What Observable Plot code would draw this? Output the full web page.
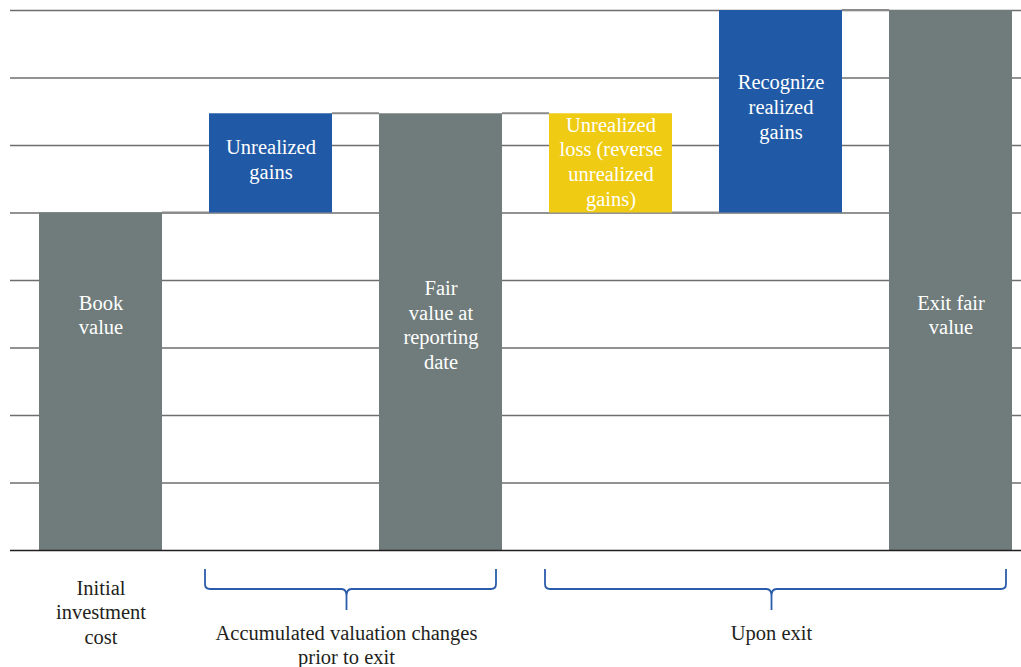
<!DOCTYPE html>
<html><head><meta charset="utf-8">
<script src="https://cdn.jsdelivr.net/npm/d3@7"></script>
<script src="https://cdn.jsdelivr.net/npm/@observablehq/plot@0.6"></script>
<style>body{margin:0;background:#fff} svg{display:block}</style>
</head><body><div id="chart"></div>
<script>
// ---- data ----
const steps = ["Book value", "Unrealized gains", "Fair value at reporting date",
  "Unrealized loss (reverse unrealized gains)", "Recognize realized gains", "Exit fair value"];
const barLabels = ["Book\nvalue", "Unrealized\ngains", "Fair\nvalue at\nreporting\ndate",
  "Unrealized\nloss (reverse\nunrealized\ngains)", "Recognize\nrealized\ngains", "Exit fair\nvalue"];
const barStart = [0, 5, 0, 5, 5, 0];
const barEnd = [5, 6.47, 6.47, 6.47, 8, 8];
const barKind = ["total", "increase", "total", "decrease", "increase", "total"];
const labelAt = [3.48, 5.78, 3.33, 5.75, 6.56, 3.48];
const gridTicks = [1, 2, 3, 4, 5, 6, 7, 8];
const categoryNotes = ["Initial\ninvestment\ncost", "", "", "", "", ""];
const groupLabels = ["Accumulated valuation changes\nprior to exit", "Upon exit"];
const groupFirst = [1, 3];
const groupLast = [2, 5];
const kindColors = {total: "#6f7c7b", increase: "#205aa7", decrease: "#efcb13"};

const FONT = "'Liberation Serif', 'Times New Roman', serif";
const bars = steps.map((s, i) => ({step: s, label: barLabels[i], y1: barStart[i], y2: barEnd[i],
  kind: barKind[i], at: labelAt[i], note: categoryNotes[i]}));

function bw(x) { return typeof x.bandwidth === "function" ? x.bandwidth() : x.bandwidth; }

// connectors between consecutive bars
function connectors(index, scales) {
  const {x, y} = scales;
  const g = d3.create("svg:g").attr("stroke", "#8a8a8a").attr("stroke-width", 2);
  for (let i = 0; i < steps.length - 1; i++) {
    const level = barKind[i] === "decrease" ? barStart[i] : barEnd[i];
    g.append("line")
      .attr("x1", x(steps[i]) + bw(x)).attr("x2", x(steps[i + 1]))
      .attr("y1", y(level)).attr("y2", y(level));
  }
  return g.node();
}

// braces and group labels below the axis
function braces(index, scales) {
  const {x, y} = scales;
  const base = y(0);
  const g = d3.create("svg:g");
  groupLabels.forEach((lab, k) => {
    const x1 = x(steps[groupFirst[k]]) - 4;
    const x2 = x(steps[groupLast[k]]) + bw(x) - 6;
    const cx = (x1 + x2) / 2 - 4;
    const yt = base + 19, yh = base + 39, yb = base + 60, r = 5;
    const p = `M${x1},${yt} L${x1},${yh - r} Q${x1},${yh} ${x1 + r},${yh} L${cx - r},${yh} Q${cx},${yh} ${cx},${yh + r + 2} L${cx},${yb}`
      + ` M${cx},${yh + r + 2} Q${cx},${yh} ${cx + r},${yh} L${x2 - r},${yh} Q${x2},${yh} ${x2},${yh - r} L${x2},${yt}`;
    g.append("path").attr("d", p).attr("fill", "none").attr("stroke", "#2b5cab").attr("stroke-width", 1.8);
    const t = g.append("text").attr("text-anchor", "middle").attr("fill", "#231f20")
      .attr("font-family", FONT).attr("font-size", 20.5);
    lab.split("\n").forEach((line, j) => {
      t.append("tspan").attr("x", cx).attr("y", base + 83.5 + j * 24).attr("dy", "0.32em").text(line);
    });
  });
  return g.node();
}

const chart = Plot.plot({
  width: 1021,
  height: 667,
  marginLeft: 10,
  marginRight: 0,
  marginTop: 10,
  marginBottom: 117,
  style: {background: "#fff", fontFamily: FONT},
  x: {type: "band", domain: steps, paddingInner: 0.277, paddingOuter: 0.1085, align: 0.757, axis: null},
  y: {domain: [0, 8], axis: null},
  marks: [
    Plot.ruleY(gridTicks, {stroke: "#6e6e6e", strokeWidth: 1.6}),
    connectors,
    Plot.barY(bars, {x: "step", y1: "y1", y2: "y2", fill: d => kindColors[d.kind]}),
    Plot.text(bars, {x: "step", y: "at", dy: -1.5, text: "label", fill: "#ffffff", fontSize: 20.5,
      fontFamily: FONT, lineHeight: 1.2, lineAnchor: "middle"}),
    Plot.ruleY([0], {stroke: "#231f20", strokeWidth: 1.6}),
    Plot.text(bars.filter(d => d.note), {x: "step", y: 0, dy: 61, text: "note", fill: "#231f20",
      fontSize: 20.5, fontFamily: FONT, lineHeight: 1.2, lineAnchor: "middle"}),
    braces
  ]
});
document.getElementById("chart").append(chart);
</script>
</body></html>
